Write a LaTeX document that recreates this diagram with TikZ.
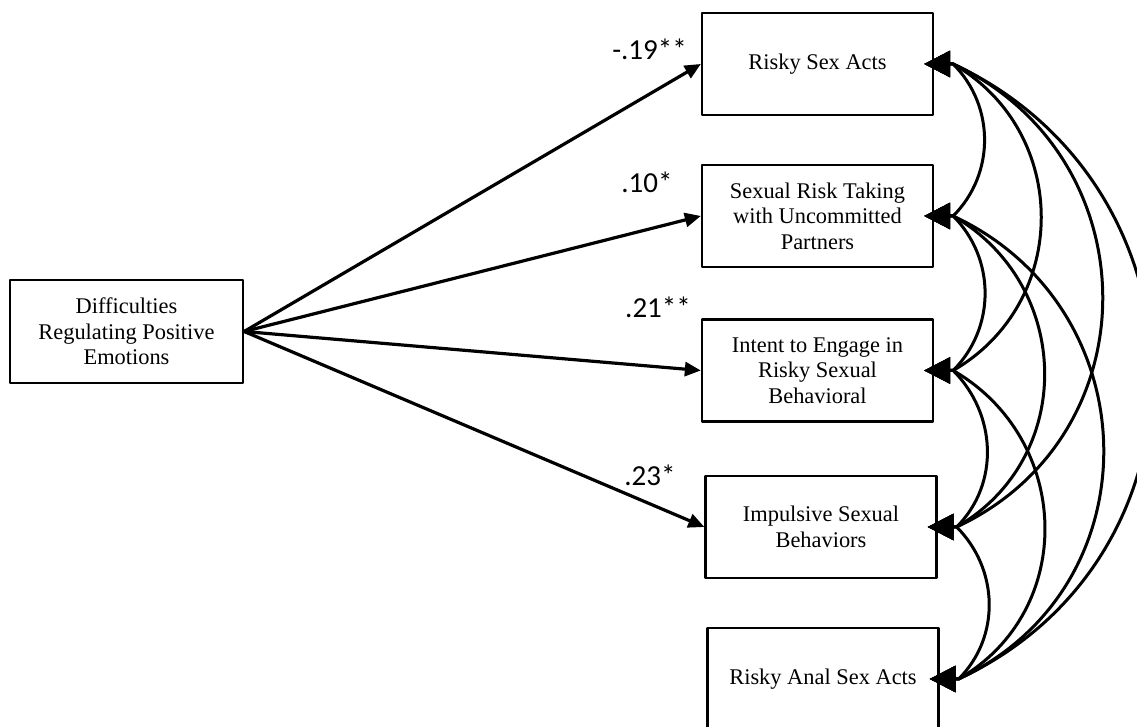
\documentclass[tikz,border=0pt]{standalone}
\usepackage{fontspec}
\setmainfont{Liberation Serif}
\newfontfamily\calibri{Carlito}
\usetikzlibrary{arrows.meta}
\tikzset{
  >={Triangle[length=8pt, width=7pt]},
  every picture/.style={line cap=round, line join=round},
  px/.style={x=0.5pt, y=0.5pt},
  box/.style={draw, line width=1.15pt, minimum width=115.5pt, minimum height=51pt,
    inner sep=2pt, align=center, font=\fontsize{11.2}{12.75}\selectfont},
  effect/.style={->, line width=1.6pt},
  coef/.style={font=\calibri\fontsize{14.5}{17}\selectfont, inner sep=0pt},
  % two-headed curved connectors between the outcomes
  corr/.style={{Triangle[length=13pt, width=13pt]}-{Triangle[length=13pt, width=13pt]},
    line width=1.5pt, shorten <=-5pt, shorten >=-5pt},
}

\begin{document}
\begin{tikzpicture}[px]
  \useasboundingbox (0,0) rectangle (1137,727);
  % predictor
  \node[box, minimum width=116.5pt, minimum height=51.5pt] (drpe) at (126.5,395.5)
    {Difficulties\\Regulating Positive\\Emotions};
  % outcomes
  \node[box] (rsa) at (817.5,663) {Risky Sex Acts};
  \node[box] (srt) at (817.5,511) {Sexual Risk Taking\\with Uncommitted\\Partners};
  \node[box] (ite) at (817.5,356.5) {Intent to Engage in\\Risky Sexual\\Behavioral};
  \node[box] (isb) at (821,200) {Impulsive Sexual\\Behaviors};
  \node[box] (rasa) at (823,48) {Risky Anal Sex Acts};
  % paths and their coefficients
  \foreach \o/\c/\x/\y in {rsa/-.19**/649.5/678, srt/.10*/647/545, ite/.21**/658/419.5, isb/.23*/650/252}{
    \draw[effect] (drpe.east) -- (\o.west);
    \node[coef] (c-\o) at (\x,\y) {\c};}
  % correlations among the outcomes (angle/looseness grow with the gap)
  \foreach \a/\b/\t/\l in {rsa/srt/45/1, srt/ite/45/1, ite/isb/45/1, isb/rasa/45/1,
      rsa/ite/30/1.135, srt/isb/30/1.135, ite/rasa/30/1.135,
      rsa/isb/25/1.2, srt/rasa/25/1.2, rsa/rasa/25/1.2}
    \draw[corr] (\a.east) -- ++(9.5pt,0) to[out=-\t, in=\t, looseness=\l]
      ([xshift=9.5pt]\b.east) -- (\b.east);
\end{tikzpicture}
\end{document}
